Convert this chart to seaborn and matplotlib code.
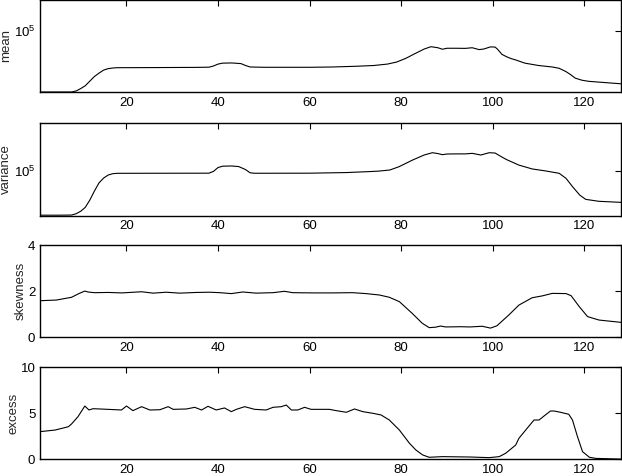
import numpy as np
import pandas as pd
import matplotlib
matplotlib.use("Agg")
import matplotlib.pyplot as plt
import seaborn as sns
from matplotlib.ticker import NullLocator, FixedLocator, FixedFormatter

# ---------------- data ----------------
mean_x = [1, 4, 8, 9, 10, 11, 12, 13, 14, 15, 16, 17, 18, 25, 35, 38, 39, 40, 41, 43,
          45, 46, 47, 50, 60, 65, 70, 74, 77, 79, 81, 83, 85, 86.5, 88, 89, 90, 92, 94,
          95.5, 97, 98, 99.5, 100.5, 101, 102, 103, 104, 105, 107, 110, 113, 114.5, 116,
          117, 118, 119.5, 121, 123, 128]
mean_y = [2.5e4, 2.5e4, 2.5e4, 2.56e4, 2.70e4, 2.88e4, 3.20e4, 3.55e4, 3.83e4, 4.10e4,
          4.24e4, 4.30e4, 4.33e4, 4.34e4, 4.36e4, 4.38e4, 4.50e4, 4.70e4, 4.80e4, 4.82e4,
          4.75e4, 4.55e4, 4.40e4, 4.37e4, 4.37e4, 4.40e4, 4.47e4, 4.55e4, 4.70e4, 4.92e4,
          5.35e4, 5.95e4, 6.60e4, 6.96e4, 6.80e4, 6.57e4, 6.72e4, 6.72e4, 6.70e4,
          6.80e4, 6.52e4, 6.60e4, 6.93e4, 6.90e4, 6.60e4, 5.85e4, 5.55e4, 5.32e4, 5.16e4,
          4.80e4, 4.55e4, 4.40e4, 4.27e4, 3.96e4, 3.70e4, 3.42e4, 3.26e4, 3.18e4, 3.13e4,
          3.01e4]

var_x = [1, 5, 8, 9, 10, 11, 12, 13, 14, 15, 16, 17, 18, 25, 38, 39, 40, 41, 43, 44.5,
         46, 47, 48, 60, 68, 73, 75, 77.5, 79.5, 82.5, 85, 86.8, 88, 89, 90, 92, 94, 95.5,
         97.4, 99.2, 100.5, 102, 103, 105.7, 108.6, 111.5, 114.5, 116, 117.4, 119, 120.3,
         123.2, 128]
var_y = [1.52e4, 1.52e4, 1.53e4, 1.62e4, 1.80e4, 2.13e4, 2.92e4, 4.30e4, 6.10e4, 7.50e4,
         8.55e4, 9.05e4, 9.20e4, 9.22e4, 9.25e4, 1.00e5, 1.18e5, 1.25e5, 1.26e5, 1.23e5,
         1.08e5, 9.4e4, 9.22e4, 9.25e4, 9.5e4, 9.9e4, 1.01e5, 1.06e5, 1.22e5, 1.63e5,
         2.02e5, 2.23e5, 2.15e5, 2.05e5, 2.11e5, 2.12e5, 2.12e5, 2.17e5, 2.02e5, 2.23e5,
         2.20e5, 1.85e5, 1.66e5, 1.31e5, 1.11e5, 1.02e5, 9.2e4, 7.4e4, 5.2e4, 3.6e4,
         3.0e4, 2.76e4, 2.64e4]

skew_x = [1, 4.7, 8, 9.7, 10.9, 11.6, 13, 16, 19, 23.3, 25.8, 28.7, 31.6, 35.3, 38.2,
          40.4, 42.9, 45.4, 48.3, 52.0, 54.5, 56.3, 60.7, 65.0, 69.4, 72.3, 75.2, 77.4,
          79.6, 82.4, 84.6, 86.1, 87.5, 88.6, 89.7, 93, 95, 97.7, 99.5, 100.9, 103.5,
          105.7, 108.6, 110.8, 113, 116, 117.1, 118.9, 120.7, 123.2, 128]
skew_y = [1.59, 1.62, 1.74, 1.91, 2.01, 1.97, 1.94, 1.95, 1.93, 1.98, 1.92, 1.96, 1.92,
          1.95, 1.96, 1.94, 1.90, 1.97, 1.92, 1.94, 2.00, 1.94, 1.93, 1.93, 1.94, 1.90,
          1.84, 1.74, 1.55, 1.04, 0.61, 0.42, 0.44, 0.49, 0.45, 0.46, 0.45, 0.48, 0.40,
          0.50, 0.97, 1.40, 1.72, 1.80, 1.91, 1.90, 1.81, 1.33, 0.90, 0.75, 0.65]

exc_x = [1, 4.4, 7.3, 8, 9.4, 10.9, 11.8, 12.7, 14.2, 18.9, 20.0, 21.4, 23.3, 25.1,
         27.3, 29.1, 30.2, 33.1, 34.9, 36.4, 37.8, 39.6, 41.4, 42.9, 44.0, 45.8, 48.0,
         50.5, 52.0, 53.8, 54.9, 56.0, 57.4, 58.9, 60.3, 64.3, 65.8, 68.0, 69.8, 71.6,
         73.8, 75.6, 77.4, 79.6, 81.8, 83.2, 84.7, 86.1, 89.0, 95, 99.2, 101.4, 102.8,
         105.0, 105.7, 107.5, 109.0, 110.1, 111.2, 112.6, 113.4, 114.8, 116.6, 117.4,
         118.5, 119.6, 121.1, 122.5, 128]
exc_y = [3.0, 3.18, 3.54, 3.84, 4.63, 5.79, 5.36, 5.50, 5.47, 5.36, 5.79, 5.29, 5.72,
         5.36, 5.39, 5.72, 5.43, 5.47, 5.65, 5.36, 5.76, 5.36, 5.58, 5.18, 5.43, 5.72,
         5.43, 5.36, 5.65, 5.72, 5.90, 5.36, 5.36, 5.65, 5.43, 5.43, 5.29, 5.11, 5.47,
         5.18, 5.0, 4.82, 4.27, 3.18, 1.74, 1.01, 0.47, 0.22, 0.29, 0.25, 0.18, 0.29,
         0.65, 1.55, 2.28, 3.37, 4.27, 4.27, 4.71, 5.25, 5.25, 5.11, 4.89, 4.27, 2.46,
         0.83, 0.22, 0.10, 0.02]

labels = ["mean", "variance", "skewness", "excess"]
xticks = [20, 40, 60, 80, 100, 120]

# ---------------- style ----------------
sns.set_theme(style="white")
plt.rcParams["font.family"] = ["Liberation Sans", "DejaVu Sans"]
plt.rcParams["mathtext.fontset"] = "custom"
plt.rcParams["mathtext.rm"] = "Liberation Sans"
plt.rcParams["mathtext.default"] = "regular"
plt.rcParams["axes.edgecolor"] = "black"
plt.rcParams["axes.linewidth"] = 1.0

FS = 9.5
W, H = 622, 476
fig = plt.figure(figsize=(W / 100, H / 100), dpi=100)

# axes boxes in pixels: (top, bottom)
boxes = [(0, 92), (123, 215.5), (245.3, 337.3), (367.3, 459.3)]
left_px, right_px = 39.5, 621.0

series = [(mean_x, mean_y), (var_x, var_y), (skew_x, skew_y), (exc_x, exc_y)]

for i, ((top, bot), (xs, ys), lab) in enumerate(zip(boxes, series, labels)):
    ax = fig.add_axes([left_px / W, (H - bot) / H, (right_px - left_px) / W, (bot - top) / H])
    df = pd.DataFrame({"x": xs, "y": ys})
    sns.lineplot(data=df, x="x", y="y", ax=ax, color="black", linewidth=0.8,
                 estimator=None, sort=False)
    ax.set_xlim(1, 128)
    if i == 0:
        ax.set_yscale("log")
        ax.set_ylim(2.5e4, 2e5)
        ax.yaxis.set_major_locator(FixedLocator([1e5]))
        ax.yaxis.set_major_formatter(FixedFormatter([r"$10^5$"]))
        ax.yaxis.set_minor_locator(NullLocator())
    elif i == 1:
        ax.set_yscale("log")
        ax.set_ylim(1.5e4, 8e5)
        ax.yaxis.set_major_locator(FixedLocator([1e5]))
        ax.yaxis.set_major_formatter(FixedFormatter([r"$10^5$"]))
        ax.yaxis.set_minor_locator(NullLocator())
    elif i == 2:
        ax.set_ylim(0, 4)
        ax.set_yticks([0, 2, 4])
        ax.set_yticklabels(["0", "2", "4"])
    else:
        ax.set_ylim(0, 10)
        ax.set_yticks([0, 5, 10])
        ax.set_yticklabels(["0", "5", "10"])
    ax.set_xticks(xticks)
    ax.set_xticklabels([str(t) for t in xticks])
    ax.set_xlabel("")
    ax.set_ylabel(lab, fontsize=FS, labelpad=1)
    ax.tick_params(axis="both", which="both", direction="in", top=True, right=True,
                   length=4, width=0.8, labelsize=FS, colors="black")
    ax.tick_params(axis="x", pad=3.5)
    ax.tick_params(axis="y", pad=3)
    for s in ax.spines.values():
        s.set_visible(True)
        s.set_color("black")
        s.set_linewidth(1.0)

fig.savefig("out.png", dpi=100)
